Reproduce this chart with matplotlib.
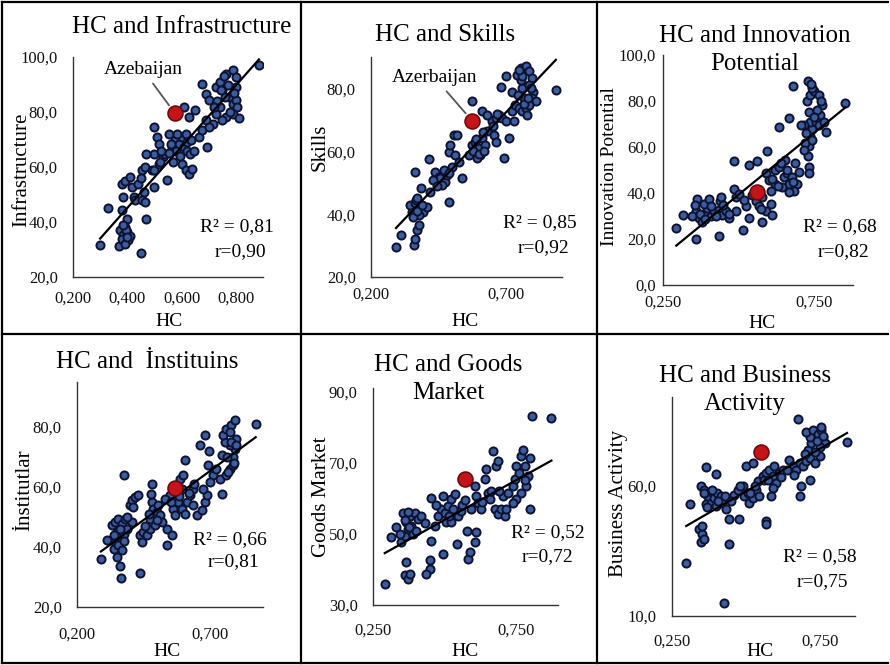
import matplotlib
matplotlib.use("Agg")
import matplotlib.pyplot as plt
from matplotlib.lines import Line2D
import numpy as np

plt.rcParams['font.family'] = ['Liberation Serif', 'DejaVu Serif']

# ---- data ----
hc_infra = [0.30, 0.33, 0.37, 0.45, 0.47, 0.373, 0.386, 0.398, 0.392, 0.404, 0.38, 0.41, 0.40, 0.38,
            0.386, 0.38, 0.39, 0.41, 0.417, 0.424, 0.429, 0.454, 0.466, 0.44, 0.454, 0.466, 0.49, 0.50,
            0.50, 0.516, 0.50, 0.50, 0.51, 0.53, 0.54, 0.546, 0.565, 0.577, 0.59, 0.60, 0.615, 0.608,
            0.62, 0.63, 0.60, 0.615, 0.627, 0.64, 0.645, 0.664, 0.676, 0.69, 0.695, 0.65, 0.627, 0.608,
            0.676, 0.69, 0.70, 0.726, 0.74, 0.75, 0.764, 0.79, 0.80, 0.776, 0.79, 0.80, 0.806, 0.79,
            0.764, 0.75, 0.726, 0.714, 0.70, 0.74, 0.76, 0.80, 0.885, 0.47, 0.516, 0.553, 0.56,
            0.73, 0.745, 0.77, 0.78, 0.795, 0.81, 0.755, 0.72, 0.58, 0.585, 0.595, 0.62, 0.635, 0.57,
            0.555, 0.39, 0.395, 0.385, 0.40, 0.52, 0.525, 0.45, 0.46]
infra = [31.5, 45.2, 31.2, 28.7, 41.2, 37, 35.2, 36.4, 38.2, 33.3, 34, 35, 41.2, 44.2, 49, 54, 55,
         56.4, 52.7, 49, 47.9, 47.9, 47.3, 54, 58.8, 60, 58.8, 52.7, 58.8, 61.2, 64.8, 74.5, 71, 63.6,
         64.8, 55.2, 67.3, 69.7, 68.5, 71, 72, 67.3, 66, 64.8, 61.2, 58.8, 57.6, 59.4, 66, 71, 73.3, 77,
         67.3, 80.6, 78.2, 81.8, 90.3, 86.7, 84.2, 89.1, 90.9, 87.9, 94, 95.2, 92.7, 85.5, 83, 84.2,
         81.8, 79.4, 78.2, 77, 79.4, 75.8, 74.5, 81.8, 85.5, 89, 97, 64.8, 68.5, 72, 68.5,
         84, 88, 90, 80, 87, 78, 93, 82, 66, 72, 64, 69, 70, 62, 65, 32, 37, 39, 34.5, 62, 66, 56, 51]

hc_skills = [0.293, 0.312, 0.358, 0.364, 0.37, 0.377, 0.352, 0.346, 0.364, 0.383, 0.395, 0.407, 0.377,
             0.367, 0.387, 0.364, 0.414, 0.439, 0.451, 0.458, 0.476, 0.482, 0.50, 0.489, 0.495, 0.513,
             0.526, 0.538, 0.489, 0.464, 0.42, 0.432, 0.507, 0.52, 0.563, 0.576, 0.588, 0.60, 0.607,
             0.613, 0.625, 0.594, 0.632, 0.65, 0.663, 0.675, 0.688, 0.656, 0.663, 0.712, 0.694, 0.576,
             0.613, 0.632, 0.70, 0.725, 0.737, 0.75, 0.762, 0.775, 0.781, 0.769, 0.762, 0.756, 0.744,
             0.756, 0.775, 0.787, 0.80, 0.787, 0.803, 0.80, 0.812, 0.787, 0.725, 0.70, 0.685, 0.887, 0.731,
             0.745, 0.76, 0.77, 0.785, 0.795, 0.75, 0.58, 0.59, 0.60, 0.615, 0.62, 0.355, 0.372, 0.39,
             0.37, 0.445, 0.47, 0.49, 0.655, 0.67]
skills = [29.6, 33.5, 30.3, 32.2, 34.9, 36.5, 40.7, 42.9, 43.4, 42.3, 40.7, 42.3, 39.7, 44.4, 48.4,
          53.3, 57.4, 53.5, 51.9, 51.4, 50.3, 52.4, 55.1, 59.9, 62, 58.8, 56.7, 51.4, 43.9, 49.3, 47.1,
          50.9, 65.2, 65.2, 58.8, 62, 63.1, 61, 58.8, 64.1, 62, 57.8, 66.3, 69.5, 70.5, 71.6, 70.5, 65.2,
          63.1, 64.1, 57.8, 75.9, 72.7, 71.6, 69.5, 72.7, 74.8, 73.7, 72.7, 73.7, 71.6, 76.9, 80.1, 82.8,
          84.4, 86.5, 87, 85.4, 83.3, 81.2, 79, 76.9, 75.9, 74.8, 79, 83.8, 80.3, 79.6, 69.5,
          78, 84, 75, 77, 80, 86, 60, 64, 59, 66, 60, 39, 41, 43, 45, 49, 54, 53, 68, 72]

hc_innov = [0.294, 0.316, 0.358, 0.435, 0.515,
            0.358, 0.369, 0.38, 0.391, 0.397, 0.386, 0.364, 0.401, 0.347, 0.408, 0.419, 0.436, 0.447,
            0.458, 0.438, 0.441, 0.469, 0.491, 0.491, 0.485, 0.502, 0.524, 0.535, 0.557, 0.568, 0.579,
            0.59, 0.607, 0.579, 0.612,
            0.484, 0.535, 0.562, 0.596, 0.636, 0.667, 0.68, 0.731,
            0.59, 0.601, 0.623, 0.634, 0.651, 0.662, 0.667, 0.678, 0.689, 0.695, 0.684, 0.667, 0.645,
            0.623, 0.607, 0.656, 0.64,
            0.731, 0.733, 0.739, 0.744, 0.739, 0.733, 0.728, 0.739, 0.75, 0.767, 0.778, 0.772, 0.756,
            0.767, 0.789, 0.783, 0.717, 0.706, 0.733, 0.733, 0.722, 0.717, 0.855, 0.744, 0.742,
            0.355, 0.372, 0.39, 0.41, 0.425, 0.45, 0.47, 0.52, 0.545, 0.575, 0.61, 0.63, 0.66, 0.68,
            0.70, 0.745, 0.76, 0.775, 0.75, 0.725]
innov = [24.6, 30.6, 19.9, 21.4, 23.9,
         32.1, 29.1, 27.6, 30.6, 33.6, 35.1, 37.3, 37.3, 29.9, 29.9, 32.1, 32.8, 30.6, 32.1, 36.6, 38.1,
         29.1, 32.1, 38.1, 41.8, 39.6, 34.3, 29.1, 36.6, 34.3, 38.1, 32.1, 35.1, 27.6, 30.6,
         54, 52, 54, 58.2, 68.5, 72.7, 86.5, 88.5,
         48.5, 45.5, 50, 51.5, 47, 48.5, 44, 47, 53, 44, 41, 40.3, 42.5, 44, 41, 54.5, 53,
         56, 60.4, 64.9, 67.9, 70.9, 75.4, 79.9, 82.8, 84.3, 82.8, 78.4, 73.9, 70.9, 69.4, 66.4, 70.9,
         69.4, 69.4, 51.5, 48.5, 61.9, 58.9, 79.1, 85.8, 87.5,
         35, 31, 28.5, 34.5, 30, 35, 31, 37, 39, 33, 46, 43, 50, 45, 49, 63, 76, 80, 73, 66]

hc_inst = [0.29, 0.3125, 0.3625, 0.365, 0.4375, 0.375,
           0.331, 0.344, 0.356, 0.369, 0.381, 0.35, 0.3625, 0.344, 0.3375, 0.356, 0.369, 0.35, 0.375,
           0.3875, 0.406,
           0.4, 0.406, 0.419, 0.4125, 0.431,
           0.4375, 0.45, 0.4625, 0.444, 0.475, 0.475, 0.481, 0.4875, 0.5, 0.5125, 0.519, 0.494, 0.506,
           0.5375, 0.54, 0.556, 0.48, 0.481,
           0.55, 0.5625, 0.575, 0.5875, 0.6, 0.594, 0.606, 0.581, 0.594, 0.606, 0.5625, 0.569, 0.6125,
           0.625, 0.6375, 0.6375, 0.65, 0.669, 0.681, 0.6875, 0.675,
           0.681, 0.6625, 0.6975, 0.694, 0.7125, 0.7, 0.725, 0.7375, 0.7475, 0.7625, 0.775, 0.7875,
           0.794, 0.775, 0.756, 0.75, 0.7625, 0.781, 0.794, 0.775, 0.8, 0.7875, 0.744, 0.8725,
           0.34, 0.36, 0.375, 0.39, 0.455, 0.47, 0.50, 0.53, 0.555, 0.585, 0.62, 0.64, 0.765, 0.78,
           0.79, 0.77, 0.80]
inst = [35.9, 42.2, 33.7, 29.7, 31.3, 63.9,
        47.2, 48.3, 49.4, 47.8, 49.4, 45, 43.3, 41.7, 39.4, 40.6, 38.9, 36.7, 44.4, 46.1, 48.3,
        53.9, 55.6, 56.7, 53.3, 57.2,
        43.9, 45, 43.9, 41.7, 46.1, 49.4, 55, 52.8, 51.7, 50.6, 48.3, 47.2, 53.9, 46.1, 40.6, 43.9,
        57.6, 61.1,
        57.2, 59.4, 60.6, 62.8, 63.9, 59.4, 68.9, 55, 52.8, 51.1, 52.8, 50.6, 55, 57.2, 59.4, 53.9,
        50.6, 52.2, 55, 57.2, 59.4,
        77.2, 73.9, 71.9, 67.2, 63.9, 61.7, 66.1, 62.8, 57.6, 63.9, 66.1, 67.2, 72.8, 73.9, 75, 77.2,
        79.4, 80.6, 82.2, 78.3, 76.1, 70, 70.6, 81.1,
        44, 46, 42, 50, 47, 51, 49, 56, 55, 57, 58, 61, 70, 75, 68, 65, 74]

hc_goods = [0.291, 0.314, 0.36, 0.366, 0.372, 0.378, 0.448, 0.448, 0.436, 0.453, 0.494, 0.543, 0.581,
            0.587, 0.605, 0.61, 0.576,
            0.349, 0.36, 0.372, 0.384, 0.366, 0.378, 0.395, 0.407, 0.419, 0.39, 0.401, 0.355, 0.372,
            0.453, 0.477, 0.488, 0.5, 0.512, 0.494, 0.523, 0.535, 0.506, 0.523, 0.547, 0.558, 0.465,
            0.605, 0.61, 0.616, 0.628, 0.64, 0.645, 0.651, 0.657, 0.669, 0.68, 0.685, 0.674, 0.686,
            0.698, 0.709, 0.703, 0.721, 0.738, 0.744, 0.75, 0.767, 0.773, 0.779, 0.791, 0.785, 0.767,
            0.75, 0.738, 0.797, 0.797, 0.805, 0.872,
            0.33, 0.345, 0.36, 0.375, 0.43, 0.47, 0.515, 0.53, 0.56, 0.57, 0.59, 0.63, 0.66, 0.69,
            0.715, 0.76, 0.78]
goods = [36, 49.1, 38.4, 42.1, 37.4, 38.8, 42.6, 40.2, 38.8, 48.1, 44.2, 47.2, 43, 44.9, 47.7, 50.5,
         50.9,
         47.7, 49.5, 51.4, 52.3, 53.3, 55.1, 56, 54.2, 55.1, 50, 50.9, 56, 56.2,
         60.2, 55.1, 57, 56, 57.9, 60.7, 59.8, 61.2, 53.3, 53.3, 55.1, 56.5, 52.3,
         63.5, 60.7, 58.8, 57, 65.3, 68.1, 61.6, 59.8, 73.3, 69.1, 70.5, 57, 55.6, 57, 55.1, 60.7,
         61.6, 63.5, 65.3, 69.1, 71.9, 73.7, 69.1, 66.3, 63.5, 61.6, 59.8, 58.8, 57, 71.4, 83, 82.6,
         52, 50, 54, 52, 53, 58, 55, 57, 58, 59.5, 57, 59, 62, 62, 57, 67, 65]

hc_bus = [0.298, 0.31, 0.366, 0.398, 0.426, 0.443, 0.443, 0.477, 0.568, 0.568, 0.676, 0.682, 0.687,
          0.716, 0.843,
          0.341, 0.352, 0.347, 0.358, 0.352, 0.347, 0.358, 0.369, 0.375, 0.364, 0.381, 0.392, 0.403,
          0.415, 0.398, 0.42, 0.432, 0.443,
          0.46, 0.472, 0.489, 0.494, 0.506, 0.511, 0.523, 0.534, 0.54, 0.545, 0.5, 0.523,
          0.557, 0.568, 0.58, 0.591, 0.597, 0.614, 0.625, 0.602, 0.591, 0.585, 0.648, 0.659, 0.67,
          0.682, 0.693, 0.705, 0.716, 0.71, 0.722, 0.716, 0.705, 0.727, 0.744, 0.756, 0.761, 0.767,
          0.75, 0.75, 0.733, 0.756,
          0.36, 0.37, 0.385, 0.405, 0.43, 0.45, 0.48, 0.515, 0.53, 0.56, 0.575, 0.62, 0.64, 0.665,
          0.70, 0.735, 0.74, 0.76]
bus = [30.2, 53, 67.1, 64.6, 15.1, 37.5, 47.1, 47.3, 46.4, 45.2, 85.4, 55.9, 59.7, 62.3, 76.9,
       43.2, 41.3, 38.2, 39.4, 44.5, 59.7, 58.5, 56.6, 54.7, 52.8, 53.5, 55.3, 57.2, 55.9, 52.1, 53.4,
       50.9, 54.7,
       56.6, 58.5, 59.7, 55.9, 57.2, 53.4, 55.3, 58.5, 61.6, 55.9, 67.4, 68.6,
       63.6, 64.8, 66.1, 63.6, 67.4, 64.8, 66.1, 61, 59.1, 55.9, 69.9, 67.4, 66.1, 68.6, 67.4, 69.3,
       70.5, 73.7, 76.2, 78.8, 80.7, 81.3, 80, 81.3, 78.8, 76.2, 75, 71.2, 68.6, 82.6,
       57, 52, 58.5, 54, 56, 54, 60, 57, 60, 62, 62, 63.5, 66, 64, 72, 73, 77, 79]

# Azerbaijan point per panel
azer = [(0.575, 79.6), (0.576, 69.7), (0.562, 40.3), (0.569, 59.7), (0.57, 65.5), (0.553, 72.8)]
titles = ["HC and Infrastructure", "HC and Skills", "HC and Innovation\nPotential",
          "HC and  İnstituins", "HC and Goods\nMarket", "HC and Business\nActivity"]
ylabels = ["Infrastructure", "Skills", "Innovation Potential", "İnstitutlar", "Goods Market",
           "Business Activity"]
r2_text = ["R² = 0,81", "R² = 0,85", "R² = 0,68", "R² = 0,66", "R² = 0,52", "R² = 0,58"]
r_text = ["r=0,90", "r=0,92", "r=0,82", "r=0,81", "r=0,72", "r=0,75"]
xticks = [[0.2, 0.4, 0.6, 0.8], [0.2, 0.7], [0.25, 0.75], [0.2, 0.7], [0.25, 0.75], [0.25, 0.75]]
yticks = [[20, 40, 60, 80, 100], [20, 40, 60, 80], [0, 20, 40, 60, 80, 100], [20, 40, 60, 80],
          [30, 50, 70, 90], [10, 60]]
xlims = [(0.2, 0.9), (0.2, 0.91), (0.25, 0.88), (0.2, 0.9), (0.25, 0.895), (0.25, 0.87)]
ylims = [(20, 100), (20, 90), (0, 100), (20, 95), (30, 91), (10, 94)]
series = [(hc_infra, infra), (hc_skills, skills), (hc_innov, innov), (hc_inst, inst),
          (hc_goods, goods), (hc_bus, bus)]

# ---- layout (pixels) ----
W, H = 890, 665
def fx(px):
    return px / W
def fy(py):
    return 1 - py / H

rects = [(73, 57, 263, 277), (371, 57, 562, 277), (663, 55, 853, 285),
         (77, 382, 263, 607), (373, 388, 558, 605), (672, 397, 855, 616)]
title_pos = [(182, 27), (445, 35), (755, 50), (147, 362), (448, 379), (745, 390)]
ylab_pos = [(22, 170), (320, 147), (610, 167), (25, 490), (322, 497), (618, 503)]
ylab_size = [15, 15, 14, 15, 15, 15]
ypad = [11, 11, 5, 11, 11, 11]
hc_pos = [(169, 322), (465, 322), (762, 323), (167, 652), (465, 652), (760, 652)]
r2_pos = [(237, 227), (540, 223), (840, 227), (230, 540), (548, 533), (820, 557)]
r_pos = [(240, 252), (543, 248), (843, 252), (233, 562), (548, 557), (822, 582)]
xpad = [10, 7, 7, 14, 13, 13]
azer_lbl = {0: ("Azebaijan", (143, 70)), 1: ("Azerbaijan", (435, 78))}

fig = plt.figure(figsize=(W / 100, H / 100), dpi=100)

for i in range(6):
    l, t, r, b = rects[i]
    ax = fig.add_axes([fx(l), fy(b), (r - l) / W, (b - t) / H])
    x, y = np.array(series[i][0]), np.array(series[i][1])
    ax.scatter(x, y, s=34, facecolor='#3d5c9e', edgecolor='#0c1230', linewidth=1.4, zorder=2)
    k, c = np.polyfit(x, y, 1)
    xs = np.array([x.min(), x.max()])
    ax.plot(xs, k * xs + c, color='black', lw=1.6, zorder=3)
    ax.scatter([azer[i][0]], [azer[i][1]], s=115, facecolor='#c4141a', edgecolor='#6e0a0c',
               linewidth=1.2, zorder=4)
    ax.set_xlim(*xlims[i])
    ax.set_ylim(*ylims[i])
    ax.set_xticks(xticks[i])
    ax.set_yticks(yticks[i])
    ax.set_xticklabels([f"{v:.3f}".replace('.', ',') for v in xticks[i]])
    ax.set_yticklabels([f"{v:.1f}".replace('.', ',') for v in yticks[i]])
    ax.tick_params(length=0, labelsize=12, colors='#111111')
    ax.tick_params(axis='x', pad=xpad[i])
    ax.tick_params(axis='y', pad=ypad[i])
    for s in ['top', 'right']:
        ax.spines[s].set_visible(False)
    for s in ['left', 'bottom']:
        ax.spines[s].set_color('#333333')
        ax.spines[s].set_linewidth(1.0)
    ax.patch.set_alpha(0)

    fig.text(fx(title_pos[i][0]), fy(title_pos[i][1]), titles[i], fontsize=18,
             ha='center', va='center', linespacing=1.35)
    fig.text(fx(ylab_pos[i][0]), fy(ylab_pos[i][1]), ylabels[i], fontsize=ylab_size[i],
             rotation=90, ha='center', va='center')
    fig.text(fx(hc_pos[i][0]), fy(hc_pos[i][1]), "HC", fontsize=14, ha='center', va='center')
    fig.text(fx(r2_pos[i][0]), fy(r2_pos[i][1]), r2_text[i], fontsize=14, ha='center', va='center')
    fig.text(fx(r_pos[i][0]), fy(r_pos[i][1]), r_text[i], fontsize=14, ha='center', va='center')

    if i in azer_lbl:
        txt, (px, py) = azer_lbl[i]
        ax.annotate(txt, xy=azer[i], xytext=(fx(px), fy(py)), textcoords='figure fraction',
                    fontsize=14, ha='center', va='center',
                    arrowprops=dict(arrowstyle='-', color='#555555', lw=1.3,
                                    shrinkA=2, shrinkB=7))

# panel borders
border = dict(color='black', lw=1.6)
for (x0, y0, x1, y1) in [(2, 2, 888, 2), (2, 2, 2, 663), (2, 663, 888, 663),
                         (301, 2, 301, 663), (597, 2, 597, 663), (2, 334, 888, 334)]:
    fig.add_artist(Line2D([fx(x0), fx(x1)], [fy(y0), fy(y1)], transform=fig.transFigure, **border))

fig.savefig("out.png", dpi=100)
